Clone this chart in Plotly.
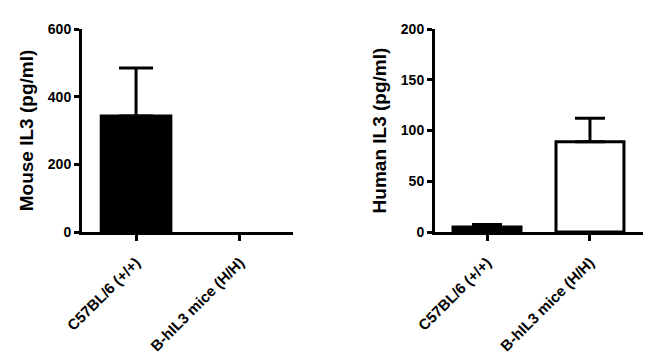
import plotly.graph_objects as go

categories = ["C57BL/6 (+/+)", "B-hIL3 mice (H/H)"]
mouse_il3 = [343, 0]
mouse_il3_err = [142, 0]
human_il3 = [5, 89]
human_il3_err = [2.5, 23]
bar_colors = ["black", "white"]
mouse_ticks = [0, 200, 400, 600]
human_ticks = [0, 50, 100, 150, 200]

FONT = "Arial, 'Liberation Sans', sans-serif"
fig = go.Figure()

for i, cat in enumerate(categories):
    # Mouse IL3 panel
    fig.add_trace(go.Bar(
        x=[i], y=[mouse_il3[i]], width=0.67,
        marker=dict(color=bar_colors[i], line=dict(color="black", width=3 if mouse_il3[i] > 0 else 0)),
        error_y=dict(type="data", symmetric=False, array=[mouse_il3_err[i]], arrayminus=[0],
                     color="black", thickness=3, width=17, visible=mouse_il3_err[i] > 0),
        xaxis="x", yaxis="y", showlegend=False, name=cat,
    ))
    # Human IL3 panel
    fig.add_trace(go.Bar(
        x=[i], y=[human_il3[i]], width=0.66,
        marker=dict(color=bar_colors[i], line=dict(color="black", width=3)),
        error_y=dict(type="data", symmetric=False, array=[human_il3_err[i]], arrayminus=[0],
                     color="black", thickness=3, width=15, visible=human_il3_err[i] > 0),
        xaxis="x2", yaxis="y2", showlegend=False, name=cat,
    ))

common_x = dict(
    tickmode="array", tickvals=[0, 1], ticktext=categories, tickangle=-45,
    showline=True, linecolor="black", linewidth=3,
    ticks="outside", ticklen=6, tickwidth=3, tickcolor="black",
    ticklabelstandoff=7,
    tickfont=dict(family=FONT, size=15, color="black", weight="bold"),
    showgrid=False, zeroline=False, fixedrange=True, automargin=False,
)
common_y = dict(
    showline=True, linecolor="black", linewidth=3,
    ticks="outside", ticklen=5, tickwidth=3, tickcolor="black",
    tickfont=dict(family=FONT, size=14, color="black", weight="bold"),
    showgrid=False, zeroline=False, automargin=False,
)

fig.update_layout(
    width=658, height=361,
    margin=dict(l=0, r=0, t=0, b=0),
    paper_bgcolor="white", plot_bgcolor="white",
    barmode="overlay",
    xaxis=dict(domain=[82/658, 293/658], range=[-0.52, 1.51], anchor="y", **common_x),
    yaxis=dict(domain=[1-232/361, 1-29/361], range=[0, 600], anchor="x",
               tickvals=mouse_ticks,
               title=dict(text="Mouse IL3 (pg/ml)", standoff=10,
                          font=dict(family=FONT, size=19, color="black", weight="bold")),
               **common_y),
    xaxis2=dict(domain=[435/658, 643/658], range=[-0.505, 1.515], anchor="y2", **common_x),
    yaxis2=dict(domain=[1-232/361, 1-29/361], range=[0, 200], anchor="x2",
                tickvals=human_ticks,
                title=dict(text="Human IL3 (pg/ml)", standoff=10,
                           font=dict(family=FONT, size=19, color="black", weight="bold")),
                **common_y),
)

fig.write_html("out.html")
